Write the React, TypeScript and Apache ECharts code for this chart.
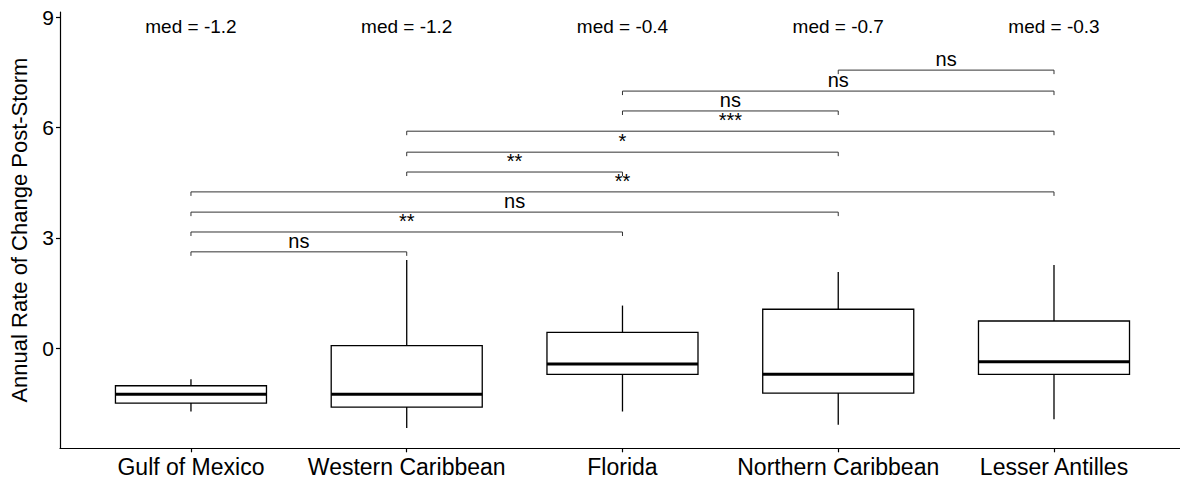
import React, { useEffect, useRef } from "react";
import * as echarts from "echarts";

const categories = ["Gulf of Mexico", "Western Caribbean", "Florida", "Northern Caribbean", "Lesser Antilles"];
const whiskerLow = [-1.72, -2.17, -1.72, -2.08, -1.93];
const q1 = [-1.49, -1.6, -0.71, -1.22, -0.71];
const median = [-1.25, -1.25, -0.43, -0.71, -0.37];
const q3 = [-1.02, 0.07, 0.43, 1.06, 0.74];
const whiskerHigh = [-0.84, 2.4, 1.16, 2.07, 2.26];
const medLabels = ["med = -1.2", "med = -1.2", "med = -0.4", "med = -0.7", "med = -0.3"];
const medLabelY = 8.75;
const yTicks = [0, 3, 6, 9];
const catTicks = [0, 1, 2, 3, 4];

const bracketFrom = [0, 0, 0, 0, 1, 1, 1, 2, 2, 3];
const bracketTo = [1, 2, 3, 4, 2, 3, 4, 3, 4, 4];
const bracketY = [2.62, 3.16, 3.7, 4.25, 4.79, 5.33, 5.9, 6.45, 6.99, 7.56];
const bracketLabel = ["ns", "**", "ns", "**", "**", "*", "***", "ns", "ns", "ns"];

const FONT = "'Liberation Sans', Arial, sans-serif";
const BOX_HALF = 0.35;

export default function App() {
  const ref = useRef<HTMLDivElement>(null);
  useEffect(() => {
    if (!ref.current) return;
    const chart = echarts.init(ref.current, null, { renderer: "svg" });
    const boxData = categories.map((_, i) => [i, whiskerLow[i], q1[i], median[i], q3[i], whiskerHigh[i]]);
    const bracketData = bracketFrom.map((f, i) => [f, bracketTo[i], bracketY[i], i]);
    const medData = categories.map((_, i) => [i, medLabelY, i]);
    chart.setOption({
      animation: false,
      grid: { left: 60, right: 0, top: 12, bottom: 36.7 },
      xAxis: {
        type: "value",
        min: -0.607,
        max: 4.584,
        axisLine: { show: true, onZero: false, lineStyle: { color: "#000", width: 1.2 } },
        axisTick: { show: true, customValues: catTicks, length: 4, lineStyle: { color: "#000", width: 1.2 } },
        axisLabel: {
          customValues: catTicks,
          formatter: (v: number) => categories[Math.round(v)],
          fontSize: 23,
          color: "#000",
          fontFamily: FONT,
          margin: 7,
        },
        splitLine: { show: false },
      },
      yAxis: {
        type: "value",
        min: -2.72,
        max: 9.14,
        name: "Annual Rate of Change Post-Storm",
        nameLocation: "middle",
        nameGap: 30,
        nameTextStyle: { fontSize: 22, color: "#000", fontFamily: FONT },
        axisLine: { show: true, onZero: false, lineStyle: { color: "#000", width: 1.2 } },
        axisTick: { show: true, customValues: yTicks, length: 4, lineStyle: { color: "#000", width: 1.2 } },
        axisLabel: { customValues: yTicks, fontSize: 21, color: "#000", fontFamily: FONT, margin: 6 },
        splitLine: { show: false },
      },
      series: [
        {
          type: "custom",
          clip: false,
          data: boxData,
          renderItem: (params: any, api: any) => {
            const x = api.value(0);
            const lo = api.coord([x, api.value(1)]);
            const b1 = api.coord([x - BOX_HALF, api.value(2)]);
            const md = api.coord([x, api.value(3)]);
            const b3 = api.coord([x + BOX_HALF, api.value(4)]);
            const hi = api.coord([x, api.value(5)]);
            const ls = { stroke: "#000", lineWidth: 1.3 };
            return {
              type: "group",
              children: [
                { type: "line", shape: { x1: hi[0], y1: hi[1], x2: hi[0], y2: b3[1] }, style: ls },
                { type: "line", shape: { x1: lo[0], y1: b1[1], x2: lo[0], y2: lo[1] }, style: ls },
                {
                  type: "rect",
                  shape: { x: b1[0], y: b3[1], width: b3[0] - b1[0], height: b1[1] - b3[1] },
                  style: { fill: "#fff", stroke: "#000", lineWidth: 1.3 },
                },
                { type: "line", shape: { x1: b1[0], y1: md[1], x2: b3[0], y2: md[1] }, style: { stroke: "#000", lineWidth: 3 } },
              ],
            };
          },
        },
        {
          type: "custom",
          clip: false,
          data: bracketData,
          renderItem: (params: any, api: any) => {
            const p1 = api.coord([api.value(0), api.value(2)]);
            const p2 = api.coord([api.value(1), api.value(2)]);
            const idx = api.value(3);
            return {
              type: "group",
              children: [
                {
                  type: "polyline",
                  shape: { points: [[p1[0], p1[1] + 4], [p1[0], p1[1]], [p2[0], p2[1]], [p2[0], p2[1] + 4]] },
                  style: { stroke: "#333", lineWidth: 1, fill: "none" },
                },
                {
                  type: "text",
                  x: (p1[0] + p2[0]) / 2,
                  y: p1[1] - 1,
                  style: {
                    text: bracketLabel[idx],
                    fontSize: 20,
                    fontFamily: FONT,
                    fill: "#000",
                    align: "center",
                    verticalAlign: "bottom",
                  },
                },
              ],
            };
          },
        },
        {
          type: "custom",
          clip: false,
          data: medData,
          renderItem: (params: any, api: any) => {
            const p = api.coord([api.value(0), api.value(1)]);
            return {
              type: "text",
              x: p[0],
              y: p[1],
              style: {
                text: medLabels[api.value(2)],
                fontSize: 19,
                fontFamily: FONT,
                fill: "#000",
                align: "center",
                verticalAlign: "middle",
              },
            };
          },
        },
      ],
    });
    return () => chart.dispose();
  }, []);
  return (
    <div
      ref={ref}
      style={{ position: "fixed", left: 0, top: 0, width: 1180, height: 485, background: "#fff" }}
    />
  );
}
